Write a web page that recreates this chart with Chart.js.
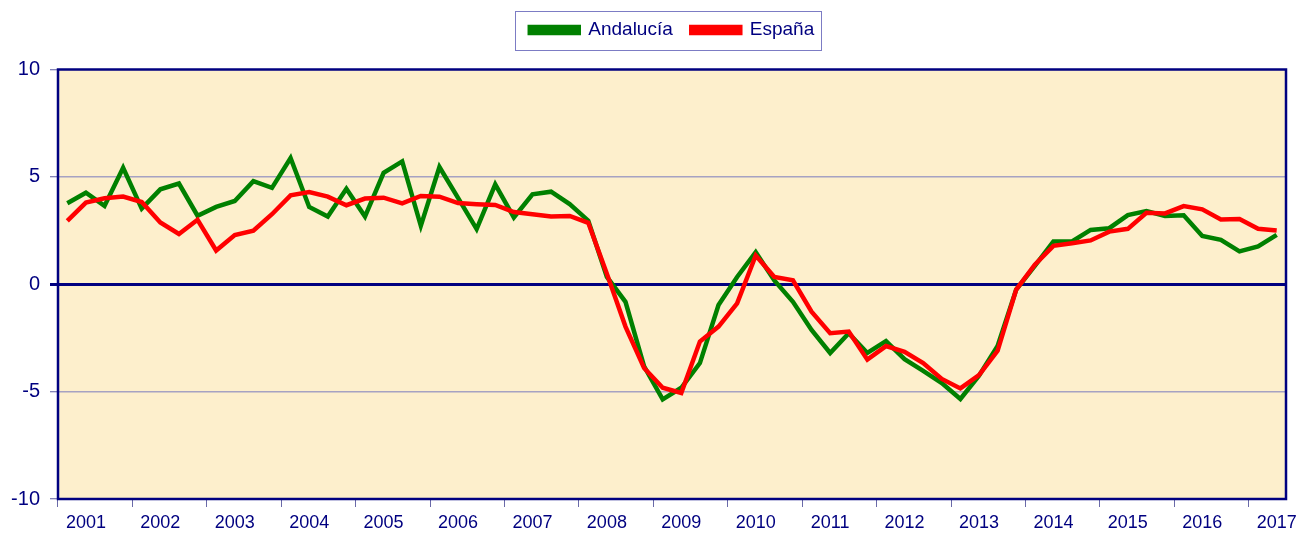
<!DOCTYPE html>
<html lang="es">
<head>
<meta charset="utf-8">
<title>Andalucía / España</title>
<script src="https://cdn.jsdelivr.net/npm/chart.js@4.4.1/dist/chart.umd.min.js"></script>
<style>
  html, body { margin: 0; padding: 0; background: #ffffff; }
  #wrap { position: relative; width: 1302px; height: 534px; }
</style>
</head>
<body>
<div id="wrap"><canvas id="growthChart"></canvas></div>
<script>
// ===== DATA =====
// Quarterly series, 2001 Q1 .. 2017 Q2 (66 quarters)
const years = ['2001', '2002', '2003', '2004', '2005', '2006', '2007', '2008', '2009',
  '2010', '2011', '2012', '2013', '2014', '2015', '2016', '2017'];
const quartersPerYear = 4;
const quarterCount = 66;

const andalucia = [
  3.77, 4.26, 3.65, 5.42, 3.52, 4.42, 4.69, 3.19, 3.60, 3.88, 4.80, 4.49,
  5.88, 3.60, 3.15, 4.45, 3.15, 5.19, 5.72, 2.72, 5.46, 4.02, 2.57, 4.65,
  3.11, 4.19, 4.31, 3.73, 2.96, 0.34, -0.82, -3.82, -5.36, -4.82, -3.67, -0.97,
  0.34, 1.49, 0.18, -0.82, -2.13, -3.20, -2.28, -3.20, -2.65, -3.49, -4.03, -4.60,
  -5.34, -4.26, -2.87, -0.25, 0.86, 1.99, 1.99, 2.53, 2.61, 3.22, 3.41, 3.18,
  3.21, 2.25, 2.07, 1.53, 1.76, 2.30
];

const espana = [
  2.95, 3.80, 4.00, 4.08, 3.83, 2.88, 2.34, 3.00, 1.57, 2.29, 2.49, 3.26,
  4.14, 4.29, 4.08, 3.68, 3.99, 4.03, 3.77, 4.11, 4.08, 3.78, 3.73, 3.69,
  3.36, 3.26, 3.15, 3.18, 2.86, 0.49, -1.97, -3.90, -4.82, -5.06, -2.67, -1.97,
  -0.89, 1.34, 0.34, 0.18, -1.28, -2.28, -2.20, -3.51, -2.88, -3.15, -3.67, -4.41,
  -4.85, -4.23, -3.10, -0.25, 0.91, 1.79, 1.91, 2.04, 2.45, 2.58, 3.33, 3.30,
  3.64, 3.49, 3.02, 3.04, 2.58, 2.50
];

const yTicks = [-10, -5, 0, 5, 10];

// ===== COLOURS =====
const NAVY = '#000080';
const PLOT_BG = '#fdefcc';
const GRID = '#a6a2c2';
const FONT = "'Liberation Sans', Arial, sans-serif";

// One category per quarter; the year label sits under the 2nd quarter
const labels = [];
for (let i = 0; i < quarterCount; i++) {
  labels.push(i % quartersPerYear === 1 ? years[Math.floor(i / quartersPerYear)] : '');
}

/**
 * Legend tweaks: extra space under it, nudged a bit to the right.
 */
const legendSpacing = {
  id: 'legendSpacing',
  afterInit(chart) {
    const legend = chart.legend;
    if (!legend) return;
    const origFit = legend.fit;
    legend.fit = function () {
      origFit.call(this);
      this.height += 20;
    };
  },
  afterLayout(chart) {
    if (chart.legend) chart.legend.left += 58;
  }
};

/**
 * Fill the plot area and draw its navy frame.
 */
const plotFrame = {
  id: 'plotFrame',
  beforeDraw(chart) {
    const { ctx, chartArea: a } = chart;
    ctx.save();
    ctx.fillStyle = PLOT_BG;
    ctx.fillRect(a.left, a.top, a.right - a.left, a.bottom - a.top);
    ctx.restore();
  },
  afterDraw(chart) {
    const { ctx, chartArea: a } = chart;
    ctx.save();
    ctx.strokeStyle = NAVY;
    ctx.lineWidth = 2.5;
    ctx.strokeRect(a.left, a.top, a.right - a.left, a.bottom - a.top);

    // thin frame round the legend
    const boxes = chart.legend && chart.legend.legendHitBoxes;
    if (boxes && boxes.length) {
      const first = boxes[0];
      const last = boxes[boxes.length - 1];
      const left = first.left - 15;
      const right = last.left + last.width + 7;
      const top = first.top - 10;
      const height = first.height + 20;
      ctx.strokeStyle = '#7c7cc4';
      ctx.lineWidth = 1;
      ctx.strokeRect(Math.round(left) + 0.5, Math.round(top) + 0.5, Math.round(right - left), Math.round(height));
    }
    ctx.restore();
  }
};

const ctx = document.getElementById('growthChart').getContext('2d');

new Chart(ctx, {
  type: 'line',
  data: {
    labels,
    datasets: [
      {
        label: 'Andalucía',
        data: andalucia,
        borderColor: '#008000',
        backgroundColor: '#008000',
        borderWidth: 4.5,
        pointRadius: 0,
        tension: 0,
        order: 1
      },
      {
        label: 'España',
        data: espana,
        borderColor: '#ff0000',
        backgroundColor: '#ff0000',
        borderWidth: 4.5,
        pointRadius: 0,
        tension: 0,
        order: 0
      }
    ]
  },
  options: {
    responsive: true,
    maintainAspectRatio: false,
    devicePixelRatio: 1,
    animation: false,
    layout: { padding: { top: 2, right: 16, bottom: 0, left: 0 } },
    plugins: {
      tooltip: { enabled: false },
      legend: {
        position: 'top',
        align: 'center',
        labels: {
          boxWidth: 49,
          boxHeight: 6,
          padding: 18.5,
          color: NAVY,
          font: { family: FONT, size: 19 },
          sort: (a, b) => a.datasetIndex - b.datasetIndex
        }
      }
    },
    scales: {
      x: {
        type: 'category',
        offset: true,
        border: { display: false },
        grid: {
          offset: true,
          drawOnChartArea: false,
          drawTicks: true,
          tickLength: 8,
          tickColor: (c) => (c.index % quartersPerYear === 0 ? '#6a6aa8' : 'rgba(0,0,0,0)'),
          tickWidth: 1
        },
        ticks: {
          autoSkip: false,
          maxRotation: 0,
          minRotation: 0,
          padding: 5,
          color: NAVY,
          font: { family: FONT, size: 18 }
        },
        afterFit: (scale) => { scale.height = 35; }
      },
      y: {
        min: yTicks[0],
        max: yTicks[yTicks.length - 1],
        border: { display: false },
        afterBuildTicks: (scale) => { scale.ticks = yTicks.map(v => ({ value: v })); },
        grid: {
          drawTicks: true,
          tickLength: 8,
          color: (c) => {
            const v = c.tick && c.tick.value;
            if (v === 0) return NAVY;
            if (v === 10 || v === -10) return 'rgba(0,0,0,0)';
            return GRID;
          },
          lineWidth: (c) => (c.tick && c.tick.value === 0 ? 3 : 1.5),
          tickColor: (c) => (c.tick && c.tick.value === 0 ? NAVY : '#5a5aa0'),
          tickWidth: (c) => (c.tick && c.tick.value === 0 ? 3 : 1)
        },
        ticks: {
          padding: 10,
          color: NAVY,
          font: { family: FONT, size: 20 },
          callback: (v) => String(v)
        },
        afterFit: (scale) => { scale.width = 58; }
      }
    }
  },
  plugins: [legendSpacing, plotFrame]
});
</script>
</body>
</html>
